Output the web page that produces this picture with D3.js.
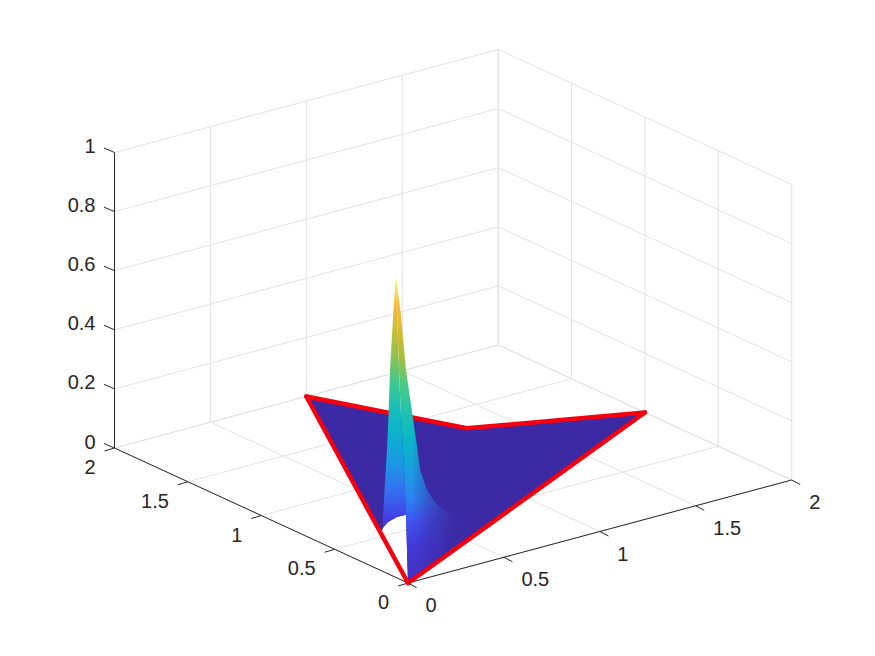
<!DOCTYPE html>
<html><head><meta charset="utf-8">
<script src="https://cdn.jsdelivr.net/npm/d3@7"></script>
<style>html,body{margin:0;background:#fff}svg{display:block}text{font-family:"Liberation Sans",Arial,sans-serif;font-size:20px;fill:#262626}</style>
</head><body><script>
const W = 875, H = 656;
const xTicks = [0, 0.5, 1, 1.5, 2];
const yTicks = [0, 0.5, 1, 1.5, 2];
const zTicks = [0, 0.2, 0.4, 0.6, 0.8, 1];
const tickLabel = d => String(d);

// boundary of the domain (red outline), on the floor z = 0
const boundaryBack = [[1, 2], [1.3, 1.3], [2, 1]];
const boundaryFrontRight = [[2, 1], [0, 0]];
const boundaryFrontLeft = [[0, 0], [1, 2]];
const floorOuter = [[1, 2], [1.3, 1.3], [2, 1], [0, 0]];
const holeCorner = [0.263, 0.526];

// spike cross-sections: height, and position across the spike
const spikeZ =     [0.905, 0.786, 0.593, 0.458, 0.322, 0.254, 0.186, 0.153, 0.119, 0.102];
const spikeLeft =  [0, -0.027, -0.06, -0.073, -0.09, -0.103, -0.115, -0.12, -0.127, -0.13];
const spikeRidge = [0, 0.01, 0.03, 0.047, 0.07, 0.08, 0.09, 0.095, 0.10, 0.10];
const spikeRight = [0, 0.047, 0.10, 0.157, 0.215, 0.24, 0.31, 0.37, 0.46, 0.56];
// lower rim of the hole under the left flank
const rimS = [-0.13, -0.08, 0.01, 0.10];
const rimZ = [0.058, 0.078, 0.095, 0.102];
// tail of the right flank fading into the floor
const tailS = [0.74, 0.54, 0.34];
const tailZ = [0.05, -0.01, -0.075];
const spikeBase = [0.2324, 0.3856], spikeDir = [0.329, -0.2511];

const parula = ["#3e26a8","#4743f0","#2b82f2","#1a9ee0","#08b5c9","#19bfb7","#48cc87","#a5bf3d","#d9ba33","#fcbc3d","#f9fb0e"];
const floorColor = "#3b2aa3";
const redColor = "#f5000f";
const colorScale = d3.scaleLinear().domain(d3.range(11).map(i => i / 10)).range(parula);

// [height along the spike, colour level]
const leftRamp = [[0, 0.02], [0.09, 0.08], [0.181, 0.17], [0.272, 0.27], [0.362, 0.37], [0.453, 0.47], [0.543, 0.57], [0.634, 0.67], [0.724, 0.77], [0.815, 0.87], [0.905, 1]];
const rightRamp = [[-0.129, 0.03], [0, 0.07], [0.085, 0.13], [0.152, 0.2], [0.3, 0.35], [0.362, 0.42], [0.453, 0.52], [0.543, 0.6], [0.634, 0.7], [0.724, 0.8], [0.815, 0.9], [0.905, 1]];
// [position across the spike, share of floor colour]
const fadeStops = [[0.16, 0], [0.34, 0.5], [0.58, 1]];

const xPx = d3.scaleLinear().domain([0, 2]).range([0, 383.7]);
const xPy = d3.scaleLinear().domain([0, 2]).range([0, -103]);
const yPx = d3.scaleLinear().domain([0, 2]).range([0, -293.5]);
const yPy = d3.scaleLinear().domain([0, 2]).range([0, -135]);
const zPy = d3.scaleLinear().domain([0, 1]).range([0, -295.5]);
const P = (x, y, z = 0) => [408 + xPx(x) + yPx(y), 583 + xPy(x) + yPy(y) + zPy(z)];
const S = (s, z) => P(spikeBase[0] + spikeDir[0] * s, spikeBase[1] + spikeDir[1] * s, z);

const svg = d3.select("body").append("svg").attr("width", W).attr("height", H);
const defs = svg.append("defs");
const line = d3.line();
const seg = (a, b, c, w) => svg.append("line").attr("x1", a[0]).attr("y1", a[1]).attr("x2", b[0]).attr("y2", b[1]).attr("stroke", c).attr("stroke-width", w);

// grid
const gridC = "#e2e2e2";
xTicks.forEach(x => { seg(P(x, 0), P(x, 2), gridC, 1); seg(P(x, 2), P(x, 2, 1), gridC, 1); });
yTicks.forEach(y => { seg(P(0, y), P(2, y), gridC, 1); seg(P(2, y), P(2, y, 1), gridC, 1); });
zTicks.forEach(z => { seg(P(0, 2, z), P(2, 2, z), gridC, 1); seg(P(2, 2, z), P(2, 0, z), gridC, 1); });

// axes
const axC = "#262626";
seg(P(0, 0), P(2, 0), axC, 1);
seg(P(0, 0), P(0, 2), axC, 1);
seg(P(0, 2), P(0, 2, 1), axC, 1);
xTicks.forEach(x => {
  const p = P(x, 0);
  seg(p, [p[0] + 8.5, p[1] + 4.5], axC, 1);
  svg.append("text").attr("x", p[0] + 17.5).attr("y", p[1] + 29).text(tickLabel(x));
});
yTicks.forEach(y => {
  const p = P(0, y);
  seg(p, [p[0] - 10, p[1] + 3], axC, 1);
  svg.append("text").attr("x", p[0] - 19).attr("y", p[1] + 26).attr("text-anchor", "end").text(tickLabel(y));
});
zTicks.forEach(z => {
  const p = P(0, 2, z);
  seg(p, [p[0] - 10.5, p[1] - 4.5], axC, 1);
  svg.append("text").attr("x", p[0] - 19).attr("y", p[1] + 0.5).attr("text-anchor", "end").text(tickLabel(z));
});

const n = spikeZ.length - 1;

// floor, leaving the hole beside the left flank
const floorPts = [
  S(spikeRidge[n], spikeZ[n]),
  ...rimS.map((s, i) => S(s, rimZ[i])).reverse(),
  P(holeCorner[0], holeCorner[1]),
  ...floorOuter.map(d => P(d[0], d[1]))
];
svg.append("path").attr("d", line(floorPts) + "Z").attr("fill", floorColor);

const red = pts => svg.append("path").attr("d", line(pts.map(d => P(d[0], d[1])))).attr("fill", "none")
  .attr("stroke", redColor).attr("stroke-width", 4.5).attr("stroke-linejoin", "round").attr("stroke-linecap", "round");
red(boundaryBack);

// vertical colour ramp by height
function ramp(id, stops) {
  const lo = S(0, stops[0][0])[1], hi = S(0, stops[stops.length - 1][0])[1];
  const g = defs.append("linearGradient").attr("id", id).attr("gradientUnits", "userSpaceOnUse")
    .attr("x1", 0).attr("y1", lo).attr("x2", 0).attr("y2", hi);
  stops.forEach(d => g.append("stop").attr("offset", (S(0, d[0])[1] - lo) / (hi - lo)).attr("stop-color", colorScale(d[1])));
}
ramp("leftRamp", leftRamp);
ramp("rightRamp", rightRamp);

// spike faces
const leftFace = [...spikeZ.map((z, i) => S(spikeLeft[i], z)),
  ...rimS.map((s, i) => S(s, rimZ[i])),
  ...spikeZ.map((z, i) => S(spikeRidge[i], z)).reverse()];
const rightFace = [...spikeZ.map((z, i) => S(spikeRidge[i], z)),
  P(0, 0),
  ...tailS.map((s, i) => S(s, tailZ[i])).reverse(),
  ...spikeZ.map((z, i) => S(spikeRight[i], z)).reverse()];
svg.append("path").attr("d", line(leftFace) + "Z").attr("fill", "url(#leftRamp)");
svg.append("path").attr("d", line(rightFace) + "Z").attr("fill", "url(#rightRamp)");

// right face loses height away from the ridge
const first = fadeStops[0][0], last = fadeStops[fadeStops.length - 1][0];
const over = defs.append("linearGradient").attr("id", "fade").attr("gradientUnits", "userSpaceOnUse")
  .attr("x1", S(first, 0)[0]).attr("y1", 0).attr("x2", S(last, 0)[0]).attr("y2", 0);
fadeStops.forEach(d => over.append("stop").attr("offset", (d[0] - first) / (last - first))
  .attr("stop-color", floorColor).attr("stop-opacity", d[1]));
svg.append("path").attr("d", line(rightFace) + "Z").attr("fill", "url(#fade)");

// front edges of the outline
red(boundaryFrontRight);
red(boundaryFrontLeft);
</script></body></html>
